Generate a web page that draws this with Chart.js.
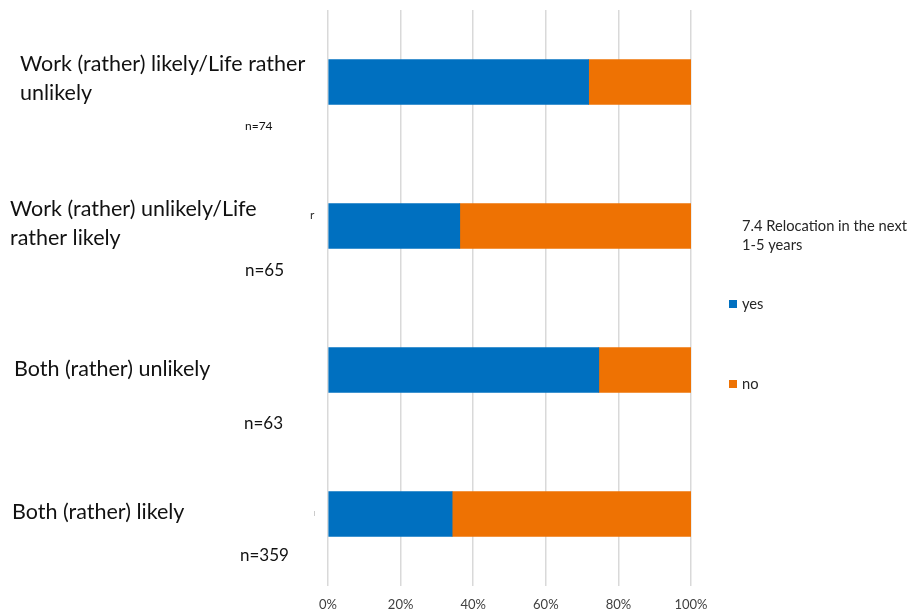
<!DOCTYPE html>
<html>
<head>
<meta charset="utf-8">
<script src="https://cdn.jsdelivr.net/npm/chart.js@4"></script>
<style>
  body { margin: 0; background: #fff; }
  canvas { display: block; }
</style>
</head>
<body>
<canvas id="relocationChart" width="907" height="612"></canvas>
<script>
// data
const categories = [
    ["Work (rather) likely/Life rather", "unlikely"],
    ["Work (rather) unlikely/Life", "rather likely"],
    ["Both (rather) unlikely"],
    ["Both (rather) likely"]
];
const sampleSizes = ["n=74", "n=65", "n=63", "n=359"];
const yesValues = [71.8, 36.3, 74.6, 34.2];
const noValues = [28.2, 63.7, 25.4, 65.8];
const xTicks = [0, 20, 40, 60, 80, 100];
const legendTitle = ["7.4 Relocation in the next", "1-5 years"];

// where the free-floating category text sits (offsets from each bar centre)
const labelX = [20, 10, 14, 12];
const labelDy = [-11, -10, 6, 5];
const nX = [245, 245, 244, 240];
const nDy = [48, 50, 59, 47];
const nSize = [12, 17, 17, 17];

const blue = "#0070c0";
const orange = "#ee7203";

const sideText = {
    id: "sideText",
    afterDraw(chart) {
        const ctx = chart.ctx;
        const yScale = chart.scales.y;
        ctx.save();
        ctx.textAlign = "left";
        ctx.textBaseline = "alphabetic";

        categories.forEach((lines, i) => {
            const cy = yScale.getPixelForValue(i);
            ctx.fillStyle = "#111";
            ctx.font = "21.5px Lato, 'Open Sans', sans-serif";
            lines.forEach((line, k) => {
                ctx.fillText(line, labelX[i], cy + labelDy[i] + k * 29);
            });
            ctx.font = nSize[i] + "px Lato, 'Open Sans', sans-serif";
            ctx.fillText(sampleSizes[i], nX[i], cy + nDy[i]);
        });

        // stray bits left over in the original slide
        ctx.font = "12px Lato, sans-serif";
        ctx.fillStyle = "#333";
        ctx.fillText("r", 310, yScale.getPixelForValue(1) - 7);
        ctx.fillStyle = "#cccccc";
        ctx.fillRect(314, yScale.getPixelForValue(3) - 3, 1, 5);

        // legend on the right
        ctx.fillStyle = "#262626";
        ctx.font = "14.7px Lato, 'Open Sans', sans-serif";
        ctx.fillText(legendTitle[0], 742, 231);
        ctx.fillText(legendTitle[1], 742, 250);

        const itemY = [304, 384];
        chart.data.datasets.forEach((ds, i) => {
            ctx.fillStyle = ds.backgroundColor;
            ctx.fillRect(729, itemY[i] - 4, 8, 8);
            ctx.fillStyle = "#262626";
            ctx.textBaseline = "middle";
            ctx.fillText(ds.label, 742, itemY[i]);
        });
        ctx.restore();
    }
};

const ctx = document.getElementById("relocationChart").getContext("2d");

new Chart(ctx, {
    type: "bar",
    data: {
        labels: categories.map(c => c.join(" ")),
        datasets: [
            {
                label: "yes",
                data: yesValues,
                backgroundColor: blue,
                borderWidth: 0,
                barThickness: 45
            },
            {
                label: "no",
                data: noValues,
                backgroundColor: orange,
                borderWidth: 0,
                barThickness: 45
            }
        ]
    },
    options: {
        indexAxis: "y",
        responsive: false,
        animation: false,
        layout: {
            padding: { left: 328, right: 216, top: 10, bottom: 0 }
        },
        plugins: {
            legend: { display: false },
            tooltip: { enabled: false }
        },
        scales: {
            x: {
                stacked: true,
                min: 0,
                max: 100,
                afterBuildTicks: axis => {
                    axis.ticks = xTicks.map(v => ({ value: v }));
                },
                afterFit: axis => {
                    axis.height = 26;
                },
                border: { display: false },
                grid: {
                    color: "#d9d9d9",
                    lineWidth: 1.5,
                    drawTicks: false
                },
                ticks: {
                    padding: 11,
                    color: "#404040",
                    font: { family: "Lato, 'Open Sans', sans-serif", size: 13 },
                    callback: v => v + "%"
                }
            },
            y: {
                stacked: true,
                display: false
            }
        }
    },
    plugins: [sideText]
});
</script>
</body>
</html>
